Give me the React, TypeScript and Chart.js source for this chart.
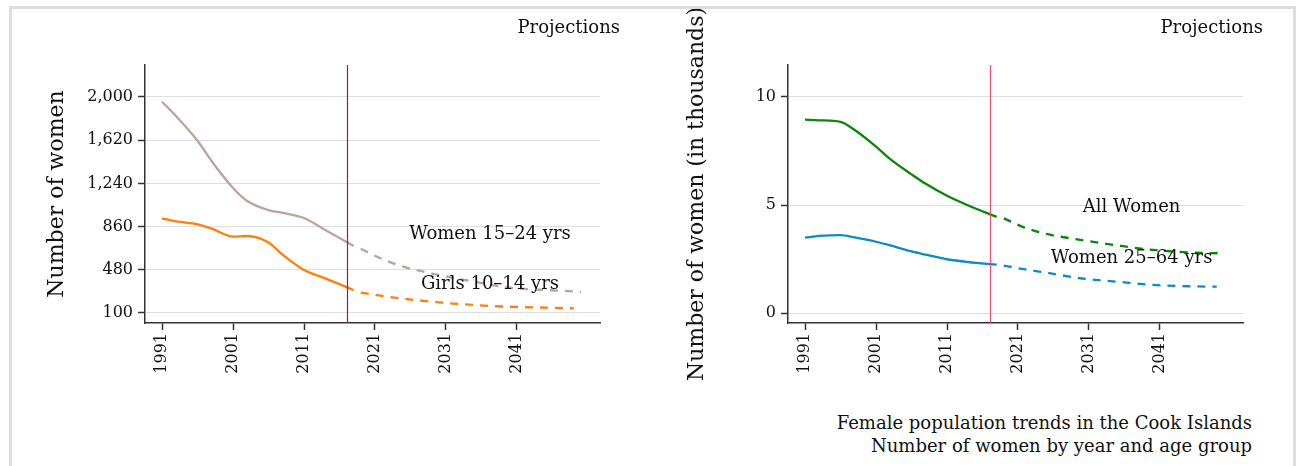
import React, { useEffect, useRef } from "react";
import { Chart, registerables } from "chart.js";
Chart.register(...registerables);

const FONT = "'DejaVu Serif', serif";

// ---- Left panel: young women / girls (number of women)
const histYears = [1991, 1993, 1996, 1998, 2001, 2003, 2006, 2008, 2011, 2014, 2018];
const women1524Hist = [1958, 1830, 1615, 1435, 1200, 1085, 1005, 980, 935, 830, 690];
const girls1014Hist = [933, 905, 880, 842, 772, 777, 720, 612, 478, 405, 302];

const projYearsLong = [2019, 2022, 2025, 2030, 2035, 2040, 2045, 2050];
const projYearsShort = [2019, 2022, 2025, 2030, 2035, 2040, 2045, 2049];
const women1524Proj = [665, 575, 507, 434, 375, 322, 302, 287];
const girls1014Proj = [280, 250, 226, 194, 170, 155, 147, 141];

const leftYTicks = [100, 480, 860, 1240, 1620, 2000];

// ---- Right panel: thousands of women
const allWomenHist = [8.95, 8.92, 8.85, 8.47, 7.7, 7.12, 6.42, 5.98, 5.43, 4.98, 4.45];
const women2564Hist = [3.49, 3.57, 3.61, 3.5, 3.3, 3.13, 2.85, 2.7, 2.49, 2.36, 2.24];
const allWomenProj = [4.38, 3.95, 3.66, 3.38, 3.13, 2.92, 2.81, 2.76];
const women2564Proj = [2.2, 2.02, 1.87, 1.6, 1.45, 1.3, 1.24, 1.22];

const rightYTicks = [0, 5, 10];
const xTicks = [1991, 2001, 2011, 2021, 2031, 2041];
const splitYear = 2017;

const pts = (xs: number[], ys: number[]) => xs.map((x, i) => ({ x, y: ys[i] }));

const overlay = {
  id: "overlay",
  afterDatasetsDraw(chart: any, _args: any, opts: any) {
    const { ctx, chartArea, scales } = chart;
    const x = scales.x;
    const y = scales.y;
    ctx.save();
    const px = Math.round(x.getPixelForValue(opts.splitYear)) + 0.5;
    ctx.strokeStyle = opts.splitColor;
    ctx.lineWidth = 1.2;
    ctx.beginPath();
    ctx.moveTo(px, chartArea.top);
    ctx.lineTo(px, chartArea.bottom);
    ctx.stroke();
    ctx.font = "18px " + FONT;
    ctx.fillStyle = "#111";
    ctx.textAlign = "center";
    ctx.textBaseline = "middle";
    (opts.labels || []).forEach((l: any) => {
      ctx.fillText(l.text, x.getPixelForValue(l.x), y.getPixelForValue(l.y));
    });
    ctx.textAlign = "right";
    ctx.fillText("Projections", chartArea.right + 20, chartArea.top - 37);
    ctx.restore();
  },
};

function lineDs(data: any[], color: string, dashed: boolean) {
  return {
    data,
    borderColor: color,
    backgroundColor: color,
    borderWidth: 2.3,
    borderDash: dashed ? [8, 7] : [],
    pointRadius: 0,
    tension: 0.4,
    cubicInterpolationMode: "monotone",
    fill: false,
  };
}

function makeConfig(p: any) {
  return {
    type: "line",
    data: { datasets: p.datasets },
    plugins: [overlay],
    options: {
      animation: false,
      responsive: false,
      maintainAspectRatio: false,
      layout: { padding: { top: 56, right: p.padRight, left: 0, bottom: 0 } },
      plugins: {
        legend: { display: false },
        tooltip: { enabled: false },
        overlay: { splitYear, splitColor: p.splitColor, labels: p.labels },
      },
      scales: {
        x: {
          type: "linear",
          min: 1988.6,
          max: 2052.7,
          afterBuildTicks: (s: any) => {
            s.ticks = xTicks.map((v) => ({ value: v }));
          },
          afterFit: (s: any) => {
            s.height = 70;
          },
          ticks: {
            autoSkip: false,
            minRotation: 90,
            maxRotation: 90,
            padding: 3,
            color: "#111",
            font: { family: FONT, size: 16 },
            callback: (v: any) => String(v),
          },
          grid: { drawOnChartArea: false, drawTicks: true, tickLength: 7, tickColor: "#333", tickWidth: 1.5 },
          border: { display: true, color: "#333", width: 1.5 },
        },
        y: {
          type: "linear",
          min: p.yMin,
          max: p.yMax,
          afterBuildTicks: (s: any) => {
            s.ticks = p.yTicks.map((v: number) => ({ value: v }));
          },
          afterFit: (s: any) => {
            s.width = 133;
          },
          ticks: {
            autoSkip: false,
            padding: 5,
            color: "#111",
            font: { family: FONT, size: 16 },
            callback: (v: any) => Number(v).toLocaleString("en-US"),
          },
          grid: { color: "#dedede", lineWidth: 1, tickLength: 7, tickColor: "#333", tickWidth: 1.5 },
          border: { display: true, color: "#333", width: 1.5 },
          title: {
            display: true,
            text: p.yTitle,
            color: "#111",
            font: { family: FONT, size: 22 },
            padding: { top: p.titlePad, bottom: 0 },
          },
        },
      },
    },
  };
}

function Panel(props: { width: number; cfg: any }) {
  const ref = useRef<HTMLCanvasElement | null>(null);
  useEffect(() => {
    if (!ref.current) return;
    const chart = new Chart(ref.current, props.cfg);
    return () => chart.destroy();
  }, []);
  return (
    <canvas
      ref={ref}
      width={props.width}
      height={384}
      style={{ width: props.width, height: 384, display: "block" }}
    />
  );
}

const leftCfg = makeConfig({
  datasets: [
    lineDs(pts(histYears, women1524Hist), "#bba29d", false),
    lineDs(pts(projYearsLong, women1524Proj), "#bba29d", true),
    lineDs(pts(histYears, girls1014Hist), "#ff7f0a", false),
    lineDs(pts(projYearsShort, girls1014Proj), "#ff7f0a", true),
  ],
  yMin: 12,
  yMax: 2281,
  yTicks: leftYTicks,
  yTitle: "Number of women",
  titlePad: 32,
  padRight: 53,
  splitColor: "#a3173f",
  labels: [
    { text: "Women 15–24 yrs", x: 2037.2, y: 795 },
    { text: "Girls 10–14 yrs", x: 2037.2, y: 355 },
  ],
});

const rightCfg = makeConfig({
  datasets: [
    lineDs(pts(histYears, allWomenHist), "#0a860a", false),
    lineDs(pts(projYearsLong, allWomenProj), "#0a860a", true),
    lineDs(pts(histYears, women2564Hist), "#0a8cc4", false),
    lineDs(pts(projYearsShort, women2564Proj), "#0a8cc4", true),
  ],
  yMin: -0.46,
  yMax: 11.48,
  yTicks: rightYTicks,
  yTitle: "Number of women (in thousands)",
  titlePad: 29,
  padRight: 50,
  splitColor: "#e4507a",
  labels: [
    { text: "All Women", x: 2037, y: 4.91 },
    { text: "Women 25–64 yrs", x: 2037, y: 2.55 },
  ],
});

export default function App() {
  return (
    <div
      style={{
        position: "fixed",
        top: 6,
        left: 9,
        width: 1287,
        height: 480,
        boxSizing: "border-box",
        border: "3px solid #dedede",
        borderBottom: "none",
        background: "#fff",
        fontFamily: FONT,
      }}
    >
      <div style={{ display: "flex", gap: 2 }}>
        <Panel width={641} cfg={leftCfg} />
        <Panel width={638} cfg={rightCfg} />
      </div>
      <div
        style={{
          marginTop: 18,
          textAlign: "right",
          paddingRight: 41,
          fontSize: 18,
          lineHeight: "23px",
          color: "#111",
        }}
      >
        <div>Female population trends in the Cook Islands</div>
        <div>Number of women by year and age group</div>
      </div>
    </div>
  );
}
